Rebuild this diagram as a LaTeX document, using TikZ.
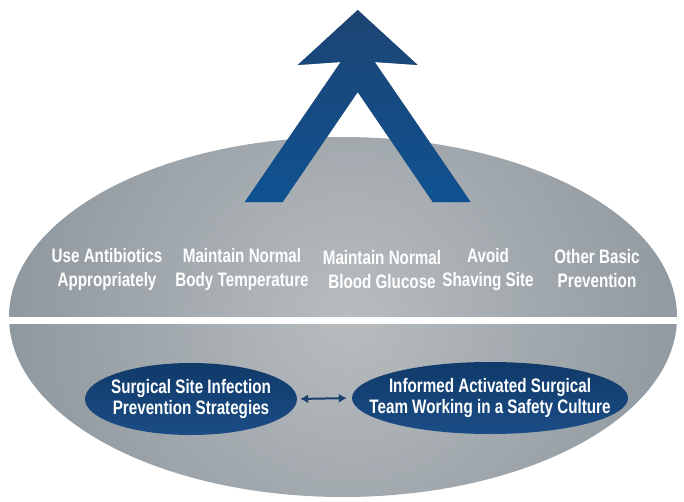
\documentclass[tikz,border=0pt]{standalone}
\usepackage{fontspec}
\usetikzlibrary{arrows.meta,shapes.geometric}
\newfontfamily\labelFont[FakeStretch=0.78]{Liberation Sans Bold}

\begin{document}
\begin{tikzpicture}[x=1pt, y=-1pt,
    rowLabel/.style={text=white, align=center, font=\labelFont\fontsize{19.5}{24}\selectfont},
    ovalLabel/.style={text=white, align=center, font=\labelFont\fontsize{19.5}{21.5}\selectfont},
    blueOval/.style={ellipse, inner sep=0pt, top color=blueTop, bottom color=blueBottom}]
    % Define colours
    \definecolor{ovalLight}{HTML}{B8BCBF}
    \definecolor{ovalDark}{HTML}{687781}
    \definecolor{arrowTop}{HTML}{1D4473}
    \definecolor{arrowBottom}{HTML}{0F5291}
    \definecolor{shadowColour}{HTML}{858D95}
    \definecolor{blueTop}{HTML}{103A69}
    \definecolor{blueBottom}{HTML}{1B4D86}
    \definecolor{linkColour}{HTML}{1A3F6A}

    % Define centre line of the arrow
    \def\midX{357.7}

    \useasboundingbox (0,0) rectangle (684,501);

    % Draw the big shaded oval
    \begin{scope}
        \clip (343,317) ellipse [x radius=334, y radius=180];
        \shade[inner color=ovalLight, outer color=ovalDark] (350,317) circle [radius=668];
    \end{scope}

    % Draw the white band across the oval
    \fill[white] (0,317) rectangle (684,324);

    % Define coordinates for the arrow
    \coordinate (T) at (\midX,10);
    \coordinate (HL) at (\midX-60,65);
    \coordinate (SL) at (\midX-17,62);
    \coordinate (LO) at (\midX-113,202);
    \coordinate (LI) at (\midX-75,202);
    \coordinate (IA) at (\midX,92);
    \coordinate (RI) at (\midX+75,202);
    \coordinate (RO) at (\midX+113,202);
    \coordinate (SR) at (\midX+17,62);
    \coordinate (HR) at (\midX+60,65);

    % Draw arrow shadow, then the arrow
    \fill[shadowColour, shift={(3,5)}] (T) -- (HL) -- (SL) -- (LO) -- (LI) -- (IA) -- (RI) -- (RO) -- (SR) -- (HR) -- cycle;
    \shade[top color=arrowTop, bottom color=arrowBottom] (T) -- (HL) -- (SL) -- (LO) -- (LI) -- (IA) -- (RI) -- (RO) -- (SR) -- (HR) -- cycle;

    % Label the upper row
    \node[rowLabel] (antibiotics) at (107,269) {Use Antibiotics\\Appropriately};
    \node[rowLabel] (temperature) at (242,269) {Maintain Normal\\Body Temperature};
    \node[rowLabel] (glucose) at (382,270) {Maintain Normal\\Blood Glucose};
    \node[rowLabel] (shaving) at (488,269) {Avoid\\Shaving Site};
    \node[rowLabel] (prevention) at (597,269) {Other Basic\\Prevention};

    % Draw the two blue ovals and link them
    \node[blueOval, minimum width=212, minimum height=72] (strategies) at (191,399) {};
    \node[blueOval, minimum width=276, minimum height=72] (team) at (490,398) {};
    \node[ovalLabel] (strategiesText) at (strategies.center) {Surgical Site Infection\\Prevention Strategies};
    \node[ovalLabel] (teamText) at (team.center) {Informed Activated Surgical\\Team Working in a Safety Culture};
    \draw[linkColour, line width=2pt, {Latex[length=8pt,width=9pt]}-{Latex[length=8pt,width=9pt]}, shorten <=3pt, shorten >=5pt] (strategies.east) -- (team.west);

\end{tikzpicture}
\end{document}
